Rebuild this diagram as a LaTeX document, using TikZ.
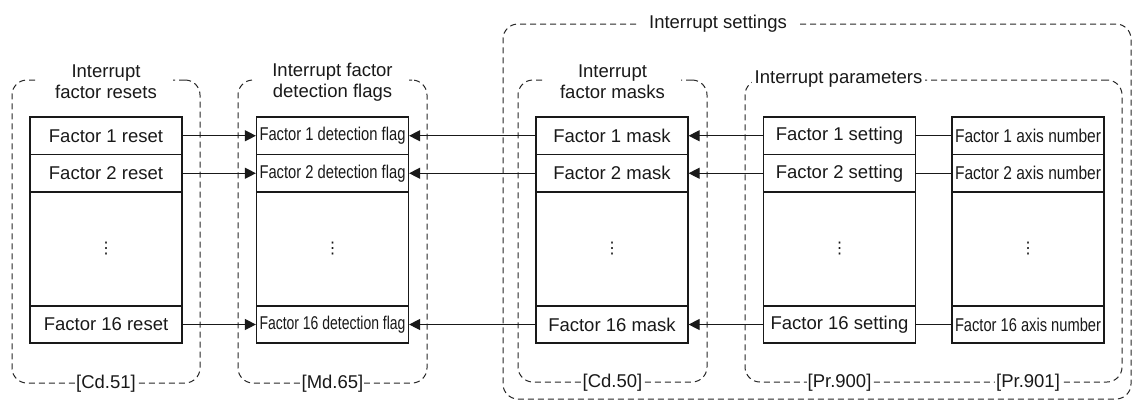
\documentclass[tikz,border=0pt]{standalone}
\usepackage{fontspec}
\setmainfont{Liberation Sans}
\newfontfamily\symfont{DejaVu Sans}
\usepackage{graphicx}
\usetikzlibrary{arrows.meta}
\newcommand{\fs}{\fontsize{18.5pt}{21pt}\selectfont}
\newcommand{\fitw}[1]{\resizebox{146pt}{\height}{#1}}
\newcommand{\vdt}{{\symfont\fontsize{16pt}{16pt}\selectfont ⋮}}
\begin{document}
\begin{tikzpicture}[x=1pt,y=-1pt,
  box/.style={draw=black!90, line width=1.2pt, minimum width=152pt, inner sep=0pt, font=\fs, text=black!90},
  rowA/.style={box, minimum height=37.5pt},
  rowM/.style={box, minimum height=114pt},
  rowZ/.style={box, minimum height=37pt},
  grp/.style={draw=black!85, line width=1pt, dash pattern=on 6pt off 4pt, rounded corners=15pt, inner sep=0pt},
  ttl/.style={fill=white, font=\fs, align=center, inner ysep=1pt, text=black!90},
  arr/.style={line width=1.2pt, draw=black!90, -{Triangle[length=11pt,width=11pt]}},
  lnk/.style={line width=1.2pt, draw=black!90}]
\useasboundingbox (0,0) rectangle (1134,402);

% groups
\node[grp, minimum width=628pt, minimum height=375pt] (g0) at (817,211.5) {};
\node[grp, minimum width=188pt, minimum height=303pt] (g1) at (106,231.5) {};
\node[grp, minimum width=189pt, minimum height=303pt] (g2) at (332.5,231.5) {};
\node[grp, minimum width=189pt, minimum height=302pt] (g3) at (612.5,231) {};
\node[grp, minimum width=377pt, minimum height=302pt] (g4) at (933.5,231) {};

% group titles
\node[ttl, inner xsep=12pt] (t0) at ([xshift=-99pt]g0.north) {Interrupt settings};
\node[ttl, inner xsep=16pt] (t1) at ([yshift=-2.5pt]g1.north) {Interrupt\\factor resets};
\node[ttl, inner xsep=16pt] (t2) at ([yshift=-2.5pt]g2.north) {Interrupt factor\\detection flags};
\node[ttl, inner xsep=16pt] (t3) at ([yshift=-2.5pt]g3.north) {Interrupt\\factor masks};
\node[ttl, anchor=west, inner xsep=3pt] (t4) at ([xshift=7pt]g4.north west) {Interrupt parameters};

% column 1
\node[rowA] (a1) at (106,135.75) {Factor 1 reset};
\node[rowA] (a2) at (106,173.25) {Factor 2 reset};
\node[rowM] (am) at (106,249) {\vdt};
\node[rowZ] (a16) at (106,324.5) {Factor 16 reset};
% column 2
\node[rowA] (b1) at (332.5,135.75) {\fitw{Factor 1 detection flag}};
\node[rowA] (b2) at (332.5,173.25) {\fitw{Factor 2 detection flag}};
\node[rowM] (bm) at (332.5,249) {\vdt};
\node[rowZ] (b16) at (332.5,324.5) {\fitw{Factor 16 detection flag}};
% column 3
\node[rowA] (c1) at (612,135.75) {Factor 1 mask};
\node[rowA] (c2) at (612,173.25) {Factor 2 mask};
\node[rowM] (cm) at (612,249) {\vdt};
\node[rowZ] (c16) at (612,324.5) {Factor 16 mask};
% column 4
\node[rowA] (d1) at (839.5,135.75) {Factor 1 setting};
\node[rowA] (d2) at (839.5,173.25) {Factor 2 setting};
\node[rowM] (dm) at (839.5,249) {\vdt};
\node[rowZ] (d16) at (839.5,324.5) {Factor 16 setting};
% column 5
\node[rowA] (e1) at (1028,135.75) {\fitw{Factor 1 axis number}};
\node[rowA] (e2) at (1028,173.25) {\fitw{Factor 2 axis number}};
\node[rowM] (em) at (1028,249) {\vdt};
\node[rowZ] (e16) at (1028,324.5) {\fitw{Factor 16 axis number}};

% bottom labels
\node[ttl, inner xsep=1pt] (l1) at (g1.south) {[Cd.51]};
\node[ttl, inner xsep=1pt] (l2) at (g2.south) {[Md.65]};
\node[ttl, inner xsep=1pt] (l3) at (g3.south) {[Cd.50]};
\node[ttl, inner xsep=1pt] (l4) at (d16 |- g4.south) {[Pr.900]};
\node[ttl, inner xsep=1pt] (l5) at (e16 |- g4.south) {[Pr.901]};

% connectors
\foreach \r in {1,2,16}{
  \draw[arr] (a\r.east) -- (b\r.west);
  \draw[arr] (c\r.west) -- (b\r.east);
  \draw[arr] (d\r.west) -- (c\r.east);
  \draw[lnk] (e\r.west) -- (d\r.east);
}
\end{tikzpicture}
\end{document}
